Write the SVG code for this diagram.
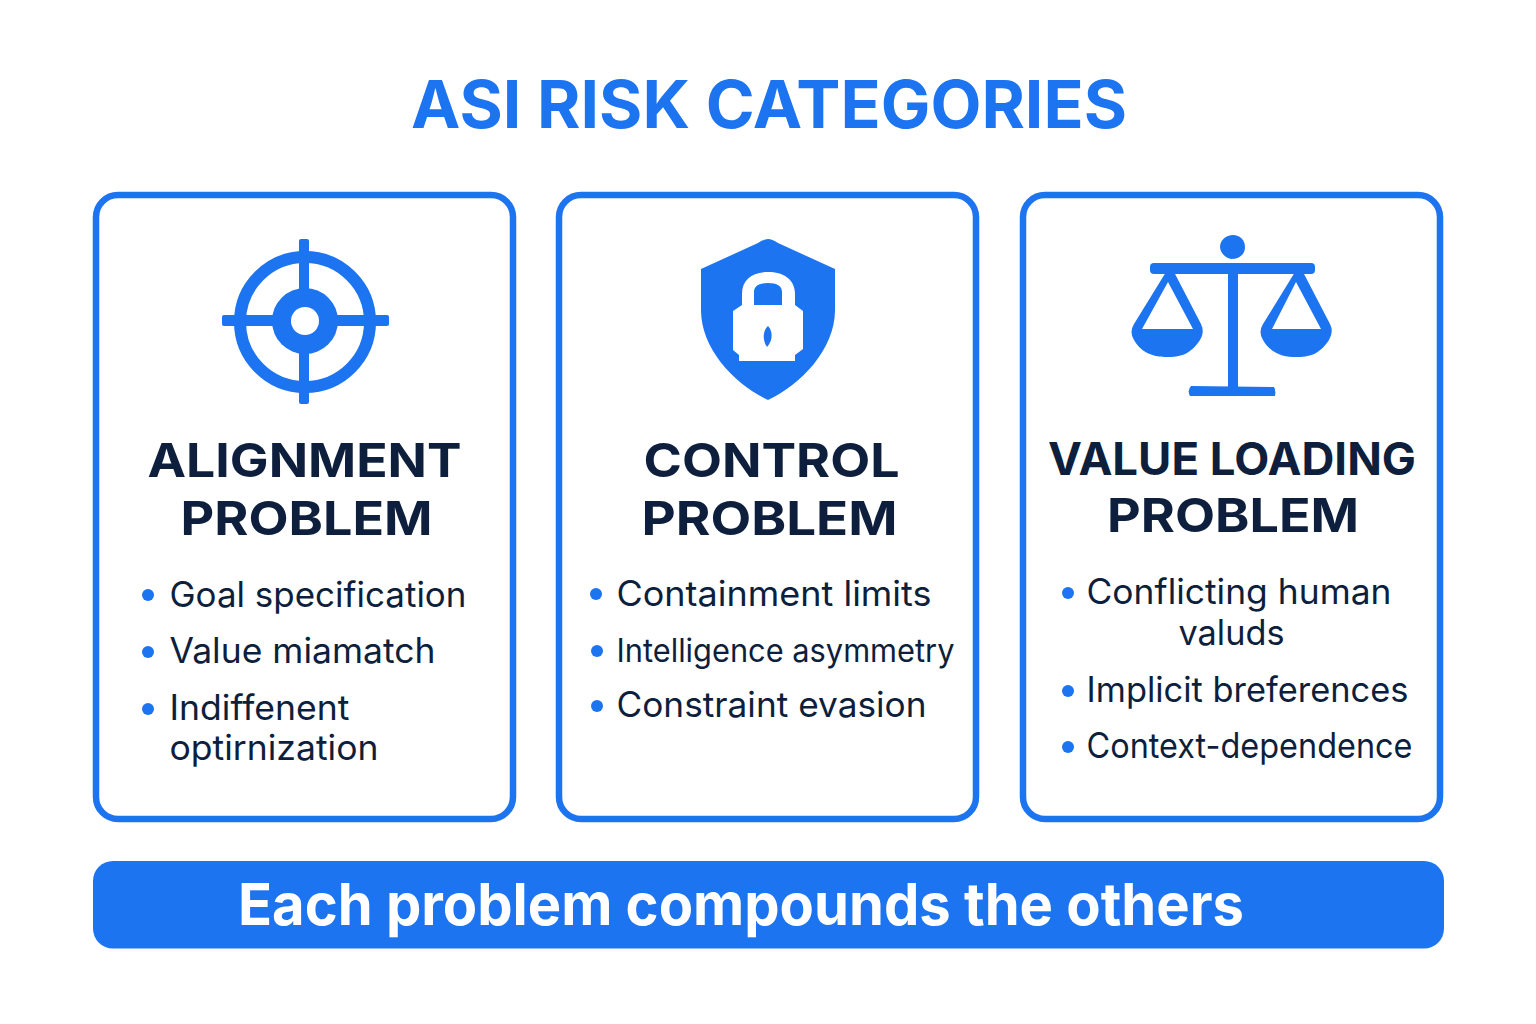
<svg xmlns="http://www.w3.org/2000/svg" width="1536" height="1024" viewBox="0 0 1536 1024">
<style>
.card{fill:#fff;stroke:#1d74f0;stroke-width:6.5}
.h{font-family:"Inter","Liberation Sans",sans-serif;font-weight:700;fill:#0d1f3c;text-anchor:middle}
.b{font-family:"Inter","Liberation Sans",sans-serif;font-weight:400;fill:#0d1f3c;font-size:35px}
.d{fill:#1d74f0}
.i{fill:#1d74f0}
.w{fill:#fff}
</style>
<rect width="1536" height="1024" fill="#fff"/>
<text id="title" x="769" y="128" font-family="Inter,'Liberation Sans',sans-serif" font-weight="700" font-size="66" fill="#1d74f0" text-anchor="middle" textLength="716" lengthAdjust="spacingAndGlyphs">ASI RISK CATEGORIES</text>
<g id="card-alignment">
<rect class="card" x="96" y="195" width="417" height="624" rx="22"/>
<g id="icon-target">
<circle cx="305" cy="322" r="65" fill="none" stroke="#1d74f0" stroke-width="12"/>
<rect class="i" x="299" y="239" width="10" height="165" rx="2"/>
<rect class="i" x="222" y="315" width="167" height="11" rx="2"/>
<circle class="i" cx="305" cy="321" r="33"/>
<circle class="w" cx="305" cy="321" r="14"/>
</g>
<text class="h" x="304.500" y="477" font-size="47" textLength="314" lengthAdjust="spacingAndGlyphs">ALIGNMENT</text>
<text class="h" x="306.500" y="535" font-size="47" textLength="252" lengthAdjust="spacingAndGlyphs">PROBLEM</text>
<circle class="d" cx="148" cy="595" r="6"/><text class="b" x="169.500" y="607" textLength="297" lengthAdjust="spacingAndGlyphs">Goal specification</text>
<circle class="d" cx="148" cy="652" r="6"/><text class="b" x="169.500" y="662.500" textLength="266" lengthAdjust="spacingAndGlyphs">Value miamatch</text>
<circle class="d" cx="148" cy="709" r="6"/><text class="b" x="169.500" y="719.500" textLength="180" lengthAdjust="spacingAndGlyphs">Indiffenent</text>
<text class="b" x="169.500" y="760" textLength="209" lengthAdjust="spacingAndGlyphs">optirnization</text>
</g>
<g id="card-control">
<rect class="card" x="559" y="195" width="417" height="624" rx="22"/>
<g id="icon-shield">
<path class="i" d="M768 239Q772 239 778 243L835 269V310C835 350 800 385 768 400C736 385 701 350 701 310V269L758 243Q764 239 768 239Z"/>
<path class="w" fill-rule="evenodd" d="M754 305V292C754 286 759 283 768 283C777 283 782 286 782 292V305ZM742 305V294C742 279 753 272 768 272C783 272 795 279 795 294V305L803 311V349L795 355V361H739V355L733 350V311Z"/>
<path class="i" d="M768 326C772 330 774 339 767 347C762 340 763 330 768 326Z"/>
</g>
<text class="h" x="771.500" y="477" font-size="47" textLength="256" lengthAdjust="spacingAndGlyphs">CONTROL</text>
<text class="h" x="769.500" y="535" font-size="47" textLength="256" lengthAdjust="spacingAndGlyphs">PROBLEM</text>
<circle class="d" cx="596" cy="594" r="6"/><text class="b" x="616.500" y="606" textLength="315" lengthAdjust="spacingAndGlyphs">Containment limits</text>
<circle class="d" cx="597" cy="651" r="6"/><text class="b" x="616.500" y="662" style="font-size:32px" textLength="338" lengthAdjust="spacingAndGlyphs">Intelligence asymmetry</text>
<circle class="d" cx="597" cy="706" r="6"/><text class="b" x="616.500" y="717" textLength="310" lengthAdjust="spacingAndGlyphs">Constraint evasion</text>
</g>
<g id="card-value">
<rect class="card" x="1023" y="195" width="417" height="624" rx="22"/>
<g id="icon-scales">
<path class="i" d="M1233 235C1240 235 1245 240 1245 247C1245 254 1240 259 1231 259C1225 258 1220 252 1220 247C1220 240 1226 235 1233 235Z"/>
<rect class="i" x="1150" y="263" width="165" height="11" rx="4"/>
<rect class="i" x="1228" y="272" width="10" height="118"/>
<path class="i" d="M1191 386L1274 387Q1276 390 1275 396H1190Q1187 390 1191 386Z"/>
<path class="i" fill-rule="evenodd" d="M1166 272H1174L1201 324Q1205 332 1200 340C1190 355 1180 357 1167 357C1155 357 1142 354 1134 340Q1129 332 1134 324ZM1168 282L1142 329H1193Z"/>
<path class="i" fill-rule="evenodd" d="M1295 272H1303L1330 324Q1334 332 1329 340C1319 355 1309 357 1296 357C1284 357 1271 354 1263 340Q1258 332 1263 324ZM1296 282L1272 329H1321Z"/>
</g>
<text class="h" x="1232" y="475" font-size="45" textLength="368" lengthAdjust="spacingAndGlyphs">VALUE LOADING</text>
<text class="h" x="1233" y="532" font-size="47" textLength="252" lengthAdjust="spacingAndGlyphs">PROBLEM</text>
<circle class="d" cx="1068" cy="593" r="6"/><text class="b" x="1086.500" y="604" textLength="305" lengthAdjust="spacingAndGlyphs">Conflicting human</text>
<text class="b" x="1178.500" y="645" textLength="106" lengthAdjust="spacingAndGlyphs">valuds</text>
<circle class="d" cx="1068" cy="691" r="6"/><text class="b" x="1086.500" y="702" textLength="322" lengthAdjust="spacingAndGlyphs">Implicit breferences</text>
<circle class="d" cx="1068" cy="747" r="6"/><text class="b" x="1086.500" y="758" textLength="326" lengthAdjust="spacingAndGlyphs">Context-dependence</text>
</g>
<g id="banner">
<rect x="93" y="861" width="1351" height="87.500" rx="20" fill="#1d74f0"/>
<text x="741" y="925" font-family="Inter,'Liberation Sans',sans-serif" font-weight="700" font-size="58" fill="#fff" text-anchor="middle" textLength="1006" lengthAdjust="spacingAndGlyphs">Each problem compounds the others</text>
</g>
</svg>
